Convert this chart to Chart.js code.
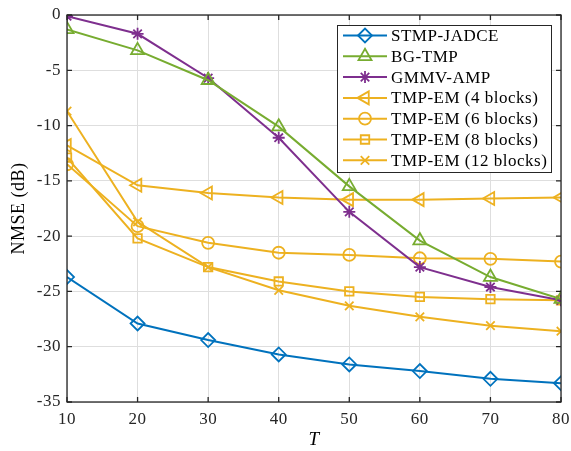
<!DOCTYPE html>
<html>
<head>
<meta charset="utf-8">
<script src="https://cdn.jsdelivr.net/npm/chart.js@4"></script>
<style>
    body { margin: 0; background: #fff; }
    #wrap { width: 571px; height: 451px; }
</style>
</head>
<body>
<div id="wrap"><canvas id="myChart" width="571" height="451"></canvas></div>
<script>
// values
const xT = [10, 20, 30, 40, 50, 60, 70, 80]
const yTicks = [0, -5, -10, -15, -20, -25, -30, -35]

const stmpJadce = [-23.7, -27.9, -29.4, -30.7, -31.6, -32.2, -32.9, -33.3]
const bgTmp     = [-1.3, -3.2, -5.9, -10.1, -15.5, -20.4, -23.7, -25.7]
const gmmvAmp   = [-0.1, -1.7, -5.7, -11.1, -17.8, -22.8, -24.6, -25.8]
const tmpEm4    = [-11.8, -15.4, -16.1, -16.5, -16.7, -16.7, -16.6, -16.5]
const tmpEm6    = [-13.5, -19.1, -20.6, -21.5, -21.7, -22.0, -22.05, -22.3]
const tmpEm8    = [-12.9, -20.2, -22.8, -24.1, -25.0, -25.5, -25.7, -25.8]
const tmpEm12   = [-8.7, -18.7, -22.8, -24.9, -26.3, -27.3, -28.1, -28.6]

const seriesNames = ["STMP-JADCE", "BG-TMP", "GMMV-AMP", "TMP-EM (4 blocks)", "TMP-EM (6 blocks)", "TMP-EM (8 blocks)", "TMP-EM (12 blocks)"]

const BLUE = "#0072BD", GREEN = "#77AC30", PURPLE = "#7E2F8E", GOLD = "#EDB120"
const FONT = "'Liberation Serif', 'DejaVu Serif', serif"

function makeSet(label, data, color, style, radius, rot) {
    return {
        label: label,
        data: data.map((v, i) => ({x: xT[i], y: v})),
        borderColor: color,
        backgroundColor: color,
        pointBorderColor: color,
        pointBackgroundColor: "rgba(0,0,0,0)",
        pointStyle: style,
        pointRadius: radius,
        pointRotation: rot || 0,
        pointBorderWidth: 1.8,
        borderWidth: 2,
        tension: 0,
        fill: false,
    }
}

const datasets = [
    makeSet(seriesNames[0], stmpJadce, BLUE, "rectRot", 7),
    makeSet(seriesNames[1], bgTmp, GREEN, "triangle", 7.5),
    makeSet(seriesNames[2], gmmvAmp, PURPLE, "star", 6),
    makeSet(seriesNames[3], tmpEm4, GOLD, "triangle", 7.5, -90),
    makeSet(seriesNames[4], tmpEm6, GOLD, "circle", 6),
    makeSet(seriesNames[5], tmpEm8, GOLD, "rect", 6),
    makeSet(seriesNames[6], tmpEm12, GOLD, "crossRot", 6),
]

// MATLAB style box with inward ticks + legend inside the axes
const boxPlugin = {
    id: "boxPlugin",
    beforeDraw(chart) {
        chart.ctx.letterSpacing = "0.5px"
    },
    afterDatasetsDraw(chart) {
        const ctx = chart.ctx
        const a = chart.chartArea
        const xs = chart.scales.x, ys = chart.scales.y
        ctx.save()
        ctx.strokeStyle = "#262626"
        ctx.lineWidth = 1.3
        ctx.strokeRect(a.left, a.top, a.right - a.left, a.bottom - a.top)
        ctx.beginPath()
        xT.forEach(v => {
            const px = xs.getPixelForValue(v)
            ctx.moveTo(px, a.bottom); ctx.lineTo(px, a.bottom - 5)
            ctx.moveTo(px, a.top); ctx.lineTo(px, a.top + 5)
        })
        yTicks.forEach(v => {
            const py = ys.getPixelForValue(v)
            ctx.moveTo(a.left, py); ctx.lineTo(a.left + 5, py)
            ctx.moveTo(a.right, py); ctx.lineTo(a.right - 5, py)
        })
        ctx.stroke()

        // legend
        const lx = 337, ly = 25, lw = 214, lh = 147, step = 20.8
        ctx.fillStyle = "#fff"
        ctx.fillRect(lx, ly, lw, lh)
        ctx.strokeStyle = "#262626"
        ctx.lineWidth = 1
        ctx.strokeRect(lx + 0.5, ly + 0.5, lw, lh)
        ctx.font = "17px " + FONT
        ctx.letterSpacing = "0.5px"
        ctx.textBaseline = "middle"
        chart.data.datasets.forEach((ds, i) => {
            const cy = 35.5 + i * step
            ctx.strokeStyle = ds.borderColor
            ctx.lineWidth = 2
            ctx.beginPath()
            ctx.moveTo(343, cy); ctx.lineTo(387, cy)
            ctx.stroke()
            ctx.lineWidth = ds.pointBorderWidth
            ctx.fillStyle = ds.pointBackgroundColor
            Chart.helpers.drawPoint(ctx, {
                pointStyle: ds.pointStyle,
                radius: ds.pointRadius,
                rotation: ds.pointRotation,
                borderWidth: ds.pointBorderWidth
            }, 365, cy)
            ctx.fillStyle = "#000"
            ctx.fillText(ds.label, 391, cy + 1)
        })
        ctx.restore()
    }
}

const ctx = document.getElementById("myChart")
const myChart = new Chart(ctx, {
    type: "line",
    data: { datasets: datasets },
    options: {
        responsive: false,
        animation: false,
        layout: { padding: { left: 0, top: 15, right: 10, bottom: 0 } },
        scales: {
            x: {
                type: "linear",
                min: 10, max: 80,
                afterFit: s => { s.height = 49; s.paddingLeft = 0; s.paddingRight = 0 },
                afterBuildTicks: s => { s.ticks = xT.map(v => ({value: v})) },
                grid: { color: "#dedede", lineWidth: 1, drawTicks: false },
                border: { display: false },
                ticks: { color: "#262626", padding: 7, font: { family: FONT, size: 17 } },
                title: {
                    display: true, text: "T", color: "#000",
                    padding: { top: 0, bottom: 0 },
                    font: { family: FONT, size: 19, style: "italic" }
                }
            },
            y: {
                type: "linear",
                min: -35, max: 0,
                afterFit: s => { s.width = 67; s.paddingTop = 0; s.paddingBottom = 0 },
                afterBuildTicks: s => { s.ticks = yTicks.map(v => ({value: v})) },
                grid: { color: "#dedede", lineWidth: 1, drawTicks: false },
                border: { display: false },
                ticks: { color: "#262626", padding: 6, font: { family: FONT, size: 17 } },
                title: {
                    display: true, text: "NMSE (dB)", color: "#000",
                    padding: { top: 8, bottom: 0 },
                    font: { family: FONT, size: 18 }
                }
            }
        },
        plugins: {
            legend: { display: false },
            tooltip: { enabled: false }
        }
    },
    plugins: [boxPlugin]
})
</script>
</body>
</html>
